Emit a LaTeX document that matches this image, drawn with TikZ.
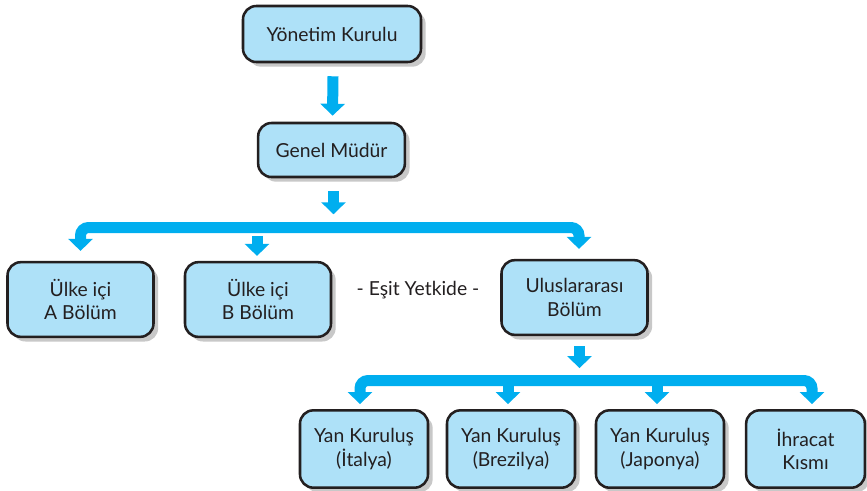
\documentclass[tikz,border=0pt]{standalone}
\usepackage{fontspec}
\setmainfont{Lato}
\usetikzlibrary{arrows.meta,calc,shadows}
\definecolor{boxfill}{HTML}{AEE1F8}
\definecolor{flow}{HTML}{00AEEF}
\definecolor{edge}{HTML}{231F20}
\definecolor{shade}{HTML}{C8C8C8}

\begin{document}
\begin{tikzpicture}[x=0.75pt,y=-0.75pt,
  unitbox/.style={draw=edge, line width=1.9pt, fill=boxfill, rounded corners=10pt,
    align=center, text=edge, inner sep=0pt,
    font=\fontsize{14.5}{17.5}\selectfont,
    general shadow={fill=shade, shadow xshift=3.5pt, shadow yshift=-3.5pt}},
  topbox/.style={unitbox, minimum width=133.5pt, minimum height=42pt},
  deptbox/.style={unitbox, minimum width=109.5pt, minimum height=56pt},
  subbox/.style={unitbox, minimum width=96pt, minimum height=58pt},
  flowline/.style={draw=flow, line width=8.25pt},
  head/.tip={Triangle[length=9pt,width=18pt]},
  tolabel/.style={font=\fontsize{14.5}{17.5}\selectfont, text=edge}]

\useasboundingbox (0,0) rectangle (867,490);
\clip (0,0) rectangle (867,490);

% management levels
\node[topbox] (yk) at (332,34) {Yönetim Kurulu};
\node[topbox, minimum width=110pt, minimum height=40.5pt] (gm) at (331.5,150) {Genel Müdür};

% departments
\node[deptbox] (a) at (80.5,299.5) {Ülke içi\\A Bölüm};
\node[deptbox] (b) at (258,299.5) {Ülke içi\\B Bölüm};
\node[deptbox] (u) at (574.5,297.5) {Uluslararası\\Bölüm};
\node[tolabel] (eq) at (418,290) {- Eşit Yetkide -};

% subsidiaries
\node[subbox] (it) at (364,449) {Yan Kuruluş\\(İtalya)};
\node[subbox] (br) at (511,449) {Yan Kuruluş\\(Brezilya)};
\node[subbox] (jp) at (660,449) {Yan Kuruluş\\(Japonya)};
\node[subbox, minimum width=89pt] (ih) at (805.5,449) {İhracat\\Kısmı};

% bar heights
\coordinate (upperbar) at (330,227.5);
\coordinate (lowerbar) at (580,380.5);

% straight arrows
\draw[flowline, -head] ($(yk.south)+(1,13)$) -- ($(gm.north)+(1,-6)$);
\draw[flowline, -head] ($(gm.south)+(2,13)$) -- ($(gm.south)+(2,36)$);
\draw[flowline, -head] ($(b.north)+(-1,-25)$) -- ($(b.north)+(-1,-5)$);
\draw[flowline, -head] ($(u.south)+(5,10)$) -- ($(u.south)+(5,32)$);

% upper distribution bar
\draw[flowline, rounded corners=6pt, head-head]
  ($(a.north)+(0,-10)$) |- (upperbar) -| ($(u.north)+(4.5,-10)$);

% lower distribution bar
\draw[flowline, rounded corners=6pt, head-head]
  ($(it.north)+(-4,-5)$) |- (lowerbar) -| ($(ih.north)+(6.5,-5)$);
\draw[flowline, -head] (lowerbar -| br.north) ++(-3,0) -- ($(br.north)+(-3,-5)$);
\draw[flowline, -head] (lowerbar -| jp.north) ++(-3,0) -- ($(jp.north)+(-3,-5)$);

\end{tikzpicture}
\end{document}
